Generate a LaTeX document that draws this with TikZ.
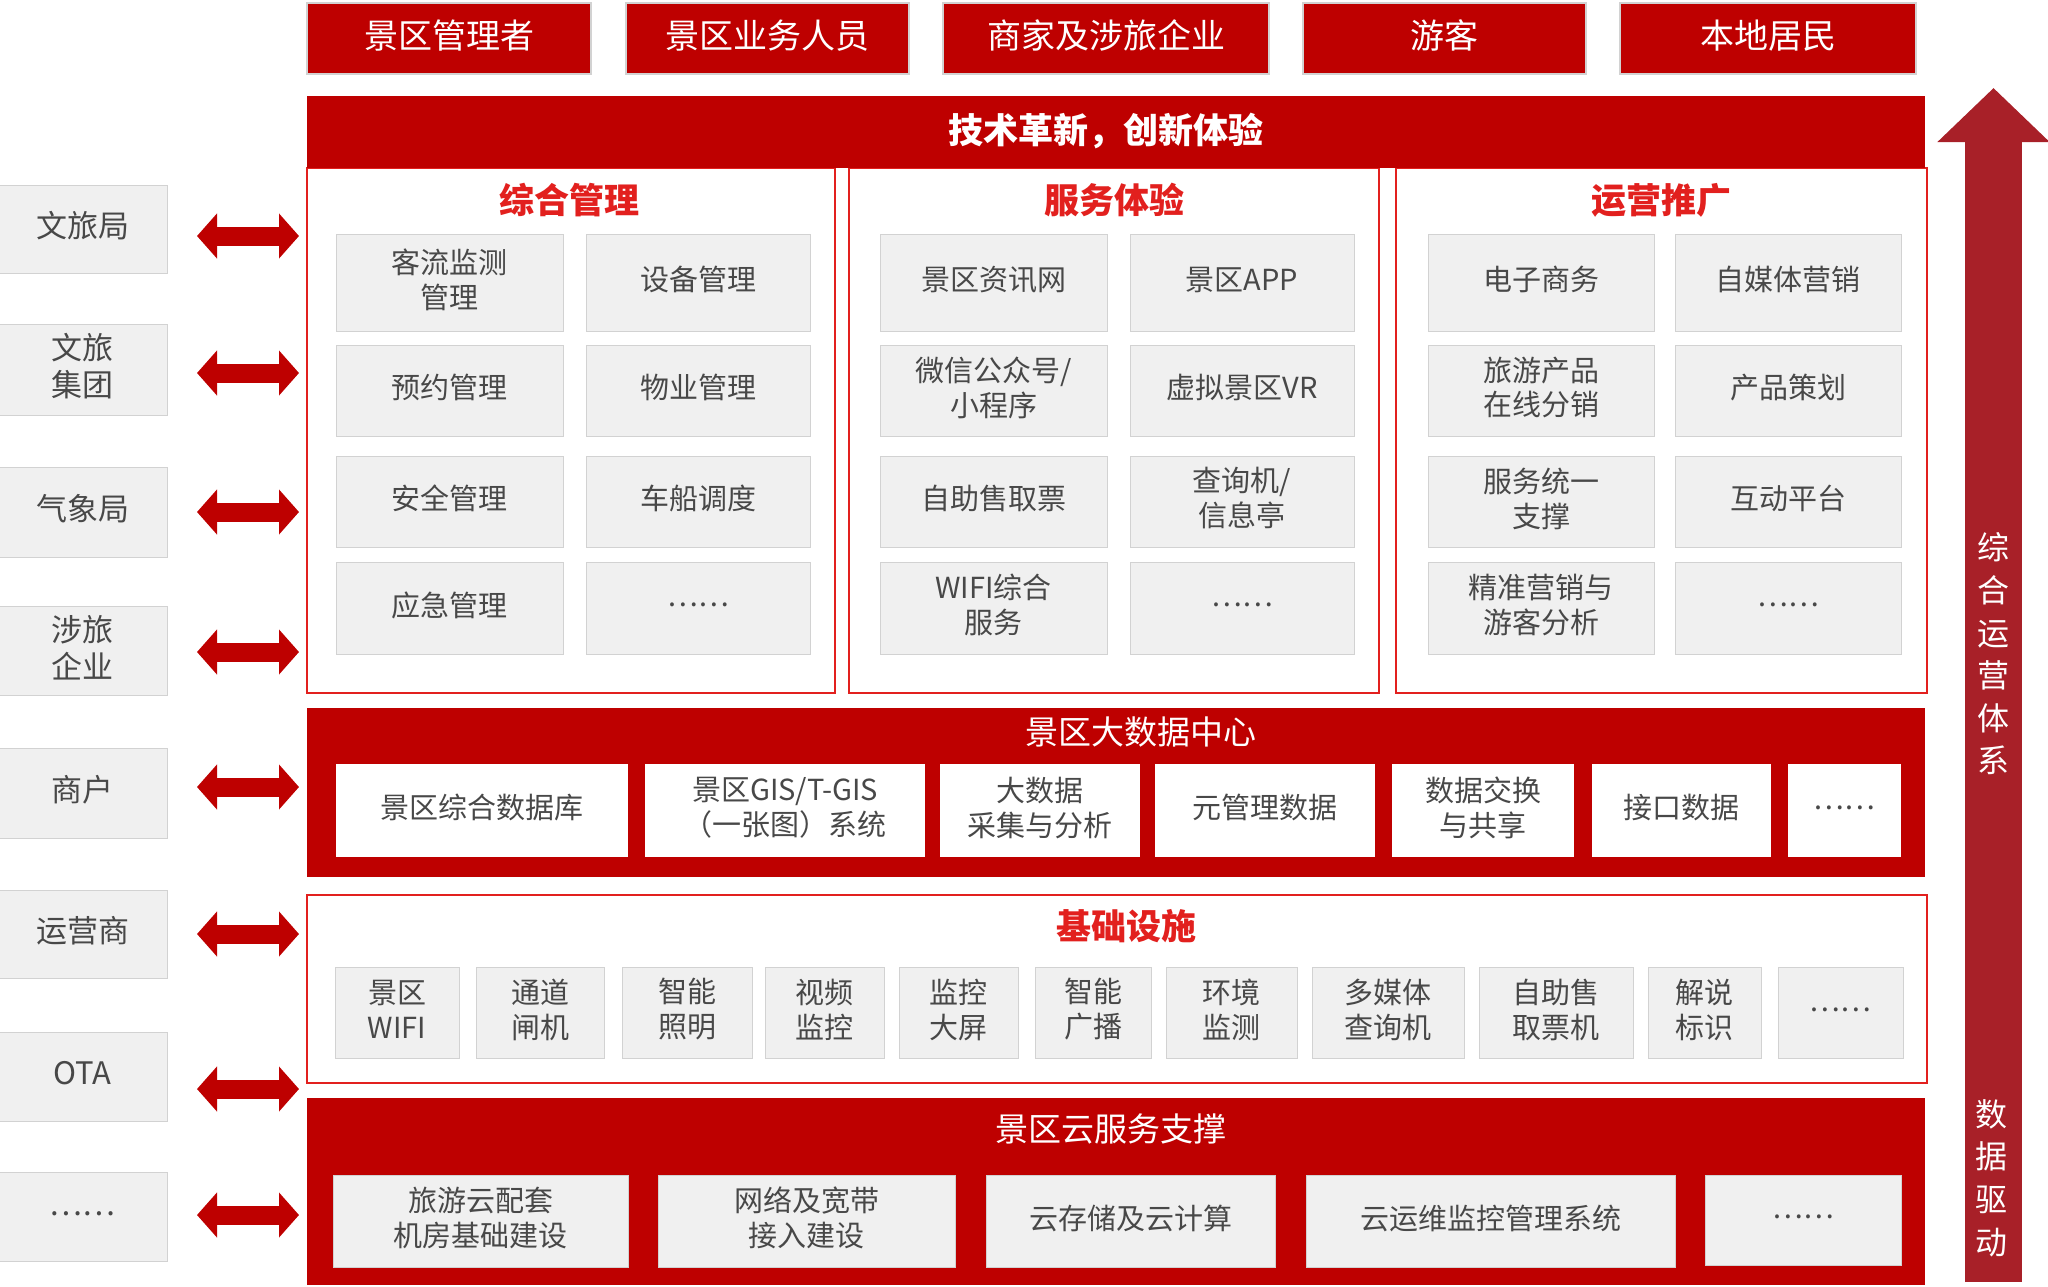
\documentclass[tikz,border=0pt]{standalone}
\usepackage{fontspec}
\setmainfont{Noto Sans CJK SC}
\usetikzlibrary{arrows.meta}
\definecolor{zred}{RGB}{190,0,0}
\definecolor{zline}{RGB}{226,32,30}
\definecolor{zarrow}{RGB}{168,32,40}
\definecolor{zgray}{RGB}{240,240,240}
\definecolor{zedge}{RGB}{210,210,210}
\definecolor{ztext}{RGB}{72,72,72}
\newcommand\fz[2]{\fontsize{#1pt}{#2pt}\selectfont}
\newcommand\bx[7]{\node[#6, minimum width={(#4-#2)*1pt}, minimum height={(#5-#3)*1pt}] (#1) at ({(#2+#4)/2},{(#3+#5)/2}) {};
  \node[#6, fill=none, draw=none, minimum width=0pt, minimum height=0pt, yshift=3pt] (#1t) at (#1.center) {#7};}
\tikzset{
 base/.style={inner sep=0pt, outer sep=0pt, align=center},
 topbox/.style={base, fill=zred, draw=zedge, line width=1.5pt, text=white, font=\fz{34}{40}},
 bar/.style={base, fill=zred},
 panel/.style={base, draw=zline, line width=2.5pt, fill=white},
 item/.style={base, fill=zgray, draw=zedge, line width=1pt, text=ztext, font=\fz{29}{35}},
 ditem/.style={base, fill=white, text=ztext, font=\fz{29}{35}},
 side/.style={base, fill=zgray, draw=zedge, line width=1pt, text=ztext, font=\fz{31}{37}},
 ptitle/.style={base, text=zline, font=\bfseries\fz{35}{40}},
 btitle/.style={base, text=white, font=\fz{33}{40}},
 vtext/.style={base, text=white, font=\fz{32}{42.6}},
 biarrow/.style={zred, line width=19pt, {Triangle[length=20pt,width=44pt]}-{Triangle[length=20pt,width=44pt]}},
}
\begin{document}
\begin{tikzpicture}[x=1pt,y=-1pt]
\useasboundingbox (0,0) rectangle (2048,1286);
% right big arrow
\coordinate (ra) at (1993.5,1282);
\coordinate (rb) at (1993.5,88);
\draw[zarrow, line width=57pt, -{Triangle[length=54pt,width=109pt]}] (ra) -- (rb);
\node[vtext] (v1) at (1993,654) {综\\合\\运\\营\\体\\系};
\node[vtext] (v2) at (1991,1178) {数\\据\\驱\\动};
% top boxes
\bx{t1}{307}{3}{591}{74}{topbox}{景区管理者}
\bx{t2}{626}{3}{909}{74}{topbox}{景区业务人员}
\bx{t3}{943}{3}{1269}{74}{topbox}{商家及涉旅企业}
\bx{t4}{1303}{3}{1586}{74}{topbox}{游客}
\bx{t5}{1620}{3}{1916}{74}{topbox}{本地居民}
% panels
\bx{p1}{307}{168}{835}{693}{panel}{}
\bx{p2}{849}{168}{1379}{693}{panel}{}
\bx{p3}{1396}{168}{1927}{693}{panel}{}
\bx{tech}{307}{96}{1925}{168}{bar}{}
\node[base, text=white, font=\bfseries\fz{35}{40}] (techt) at (1106,131) {技术革新，创新体验};
\node[ptitle] (p1t) at (569,200) {综合管理};
\node[ptitle] (p2t) at (1114,200) {服务体验};
\node[ptitle] (p3t) at (1661,200) {运营推广};
% panel 1
\bx{a11}{336}{234}{563}{331}{item}{客流监测\\管理}
\bx{a12}{586}{234}{810}{331}{item}{设备管理}
\bx{a21}{336}{345}{563}{436}{item}{预约管理}
\bx{a22}{586}{345}{810}{436}{item}{物业管理}
\bx{a31}{336}{456}{563}{547}{item}{安全管理}
\bx{a32}{586}{456}{810}{547}{item}{车船调度}
\bx{a41}{336}{562}{563}{654}{item}{应急管理}
\bx{a42}{586}{562}{810}{654}{item}{……}
% panel 2
\bx{b11}{880}{234}{1107}{331}{item}{景区资讯网}
\bx{b12}{1130}{234}{1354}{331}{item}{景区APP}
\bx{b21}{880}{345}{1107}{436}{item}{微信公众号/\\小程序}
\bx{b22}{1130}{345}{1354}{436}{item}{虚拟景区VR}
\bx{b31}{880}{456}{1107}{547}{item}{自助售取票}
\bx{b32}{1130}{456}{1354}{547}{item}{查询机/\\信息亭}
\bx{b41}{880}{562}{1107}{654}{item}{WIFI综合\\服务}
\bx{b42}{1130}{562}{1354}{654}{item}{……}
% panel 3
\bx{c11}{1428}{234}{1654}{331}{item}{电子商务}
\bx{c12}{1675}{234}{1901}{331}{item}{自媒体营销}
\bx{c21}{1428}{345}{1654}{436}{item}{旅游产品\\在线分销}
\bx{c22}{1675}{345}{1901}{436}{item}{产品策划}
\bx{c31}{1428}{456}{1654}{547}{item}{服务统一\\支撑}
\bx{c32}{1675}{456}{1901}{547}{item}{互动平台}
\bx{c41}{1428}{562}{1654}{654}{item}{精准营销与\\游客分析}
\bx{c42}{1675}{562}{1901}{654}{item}{……}
% big data
\bx{bd}{307}{708}{1925}{877}{bar}{}
\node[btitle] (bdt) at (1141,732) {景区大数据中心};
\bx{d1}{336}{764}{628}{857}{ditem}{景区综合数据库}
\bx{d2}{645}{764}{925}{857}{ditem}{景区GIS/T-GIS\\（一张图）系统}
\bx{d3}{940}{764}{1140}{857}{ditem}{大数据\\采集与分析}
\bx{d4}{1155}{764}{1375}{857}{ditem}{元管理数据}
\bx{d5}{1392}{764}{1574}{857}{ditem}{数据交换\\与共享}
\bx{d6}{1592}{764}{1771}{857}{ditem}{接口数据}
\bx{d7}{1788}{764}{1901}{857}{ditem}{……}
% infrastructure
\bx{inf}{307}{895}{1927}{1083}{panel}{}
\node[ptitle] (inft) at (1126,926) {基础设施};
\bx{e1}{335}{967}{459}{1058}{item}{景区\\WIFI}
\bx{e2}{476}{967}{604}{1058}{item}{通道\\闸机}
\bx{e3}{622}{967}{752}{1058}{item}{智能\\照明}
\bx{e4}{765}{967}{884}{1058}{item}{视频\\监控}
\bx{e5}{899}{967}{1018}{1058}{item}{监控\\大屏}
\bx{e6}{1035}{967}{1151}{1058}{item}{智能\\广播}
\bx{e7}{1166}{967}{1297}{1058}{item}{环境\\监测}
\bx{e8}{1312}{967}{1464}{1058}{item}{多媒体\\查询机}
\bx{e9}{1479}{967}{1633}{1058}{item}{自助售\\取票机}
\bx{e10}{1648}{967}{1761}{1058}{item}{解说\\标识}
\bx{e11}{1778}{967}{1903}{1058}{item}{……}
% cloud
\bx{cl}{307}{1098}{1925}{1285}{bar}{}
\node[btitle] (clt) at (1111,1129) {景区云服务支撑};
\bx{f1}{333}{1175}{628}{1267}{item}{旅游云配套\\机房基础建设}
\bx{f2}{658}{1175}{955}{1267}{item}{网络及宽带\\接入建设}
\bx{f3}{986}{1175}{1275}{1267}{item}{云存储及云计算}
\bx{f4}{1306}{1175}{1675}{1267}{item}{云运维监控管理系统}
\bx{f5}{1705}{1175}{1901}{1265}{item}{……}
% left side
\bx{l1}{-2}{185}{167}{273}{side}{文旅局}
\bx{l2}{-2}{324}{167}{415}{side}{文旅\\集团}
\bx{l3}{-2}{467}{167}{557}{side}{气象局}
\bx{l4}{-2}{606}{167}{695}{side}{涉旅\\企业}
\bx{l5}{-2}{748}{167}{838}{side}{商户}
\bx{l6}{-2}{890}{167}{978}{side}{运营商}
\bx{l7}{-2}{1032}{167}{1121}{side}{OTA}
\bx{l8}{-2}{1172}{167}{1261}{side}{……}
% arrows
\foreach \i/\y in {1/236,2/373,3/512,4/652,5/787,6/934,7/1089,8/1215}{
  \coordinate (s\i) at (197,\y);
  \coordinate (e\i) at (299,\y);
  \draw[biarrow] (s\i) -- (e\i);
}
\end{tikzpicture}
\end{document}
